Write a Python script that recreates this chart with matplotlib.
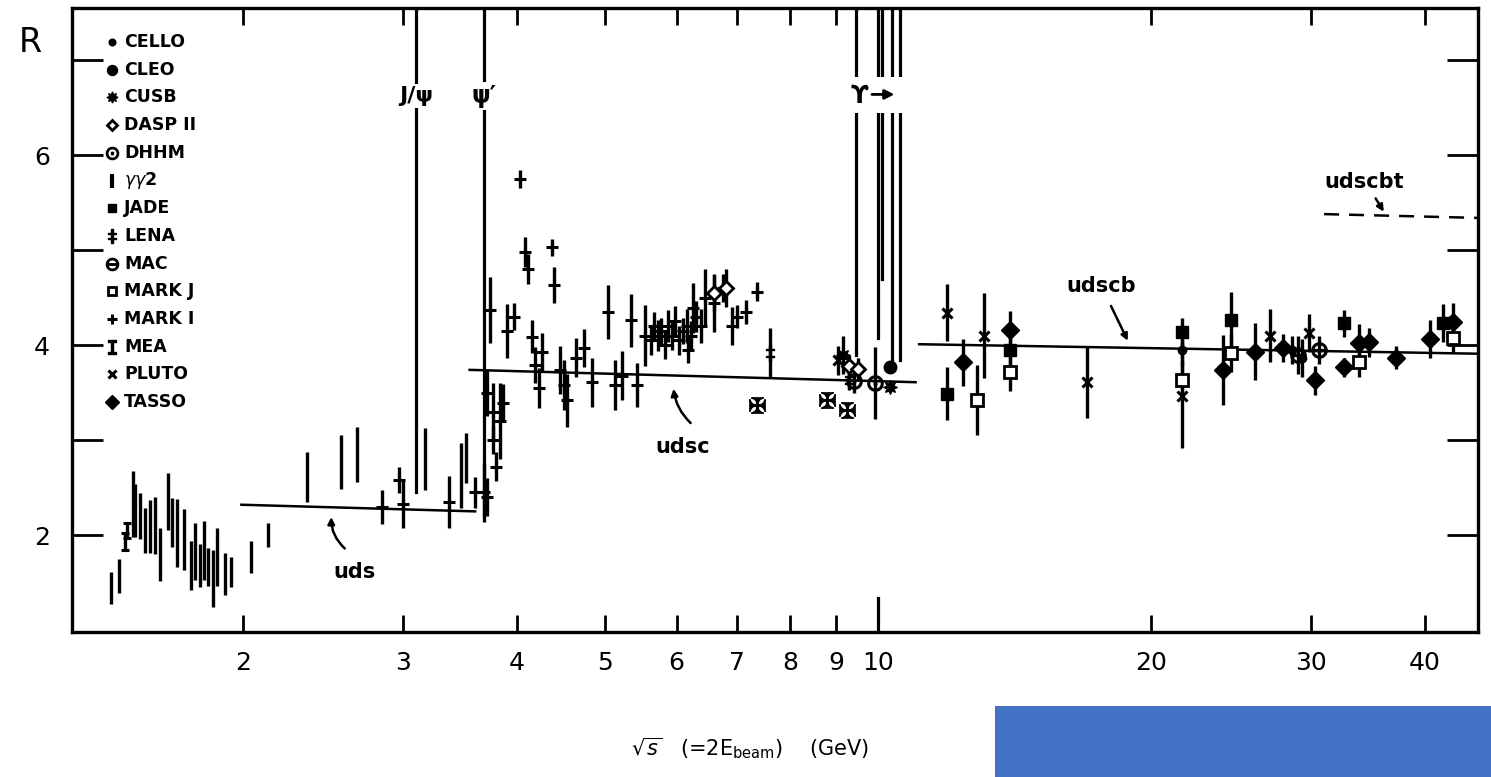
import numpy as np
import matplotlib.pyplot as plt
from matplotlib.patches import Rectangle

# ---- data (sqrt(s) in GeV, R, error) ----
gg2_x = [1.43, 1.46, 1.51, 1.52, 1.54, 1.56, 1.58, 1.60, 1.62, 1.65, 1.67, 1.69, 1.72,
         1.75, 1.77, 1.79, 1.81, 1.83, 1.85, 1.87, 1.91, 1.94, 2.04, 2.13, 2.35, 2.56,
         2.67, 3.17, 3.47, 3.52]
gg2_r = [1.44, 1.57, 2.33, 2.26, 2.20, 2.05, 2.09, 2.10, 1.80, 2.35, 2.13, 2.02, 1.95,
         1.68, 1.83, 1.68, 1.84, 1.66, 1.54, 1.77, 1.59, 1.61, 1.77, 2.00, 2.61, 2.77,
         2.85, 2.80, 2.63, 2.81]
gg2_e = [0.17, 0.18, 0.35, 0.28, 0.24, 0.24, 0.28, 0.30, 0.28, 0.30, 0.26, 0.36, 0.32,
         0.26, 0.30, 0.23, 0.31, 0.20, 0.30, 0.31, 0.22, 0.16, 0.17, 0.13, 0.26, 0.28,
         0.29, 0.33, 0.34, 0.26]

mea_x = [1.48, 1.49]
mea_r = [1.93, 2.05]
mea_e = [0.09, 0.08]

mark1_x = [2.84, 2.97, 3.00, 3.37, 3.60, 3.68, 3.71, 3.77, 3.83, 3.77, 3.80, 3.71, 3.86,
           3.74, 3.90, 3.97, 4.03, 4.09, 4.12, 4.16, 4.19, 4.23, 4.27, 4.37, 4.40, 4.47,
           4.51, 4.55, 4.65, 4.74, 4.84, 5.04, 5.13, 5.22, 5.34, 5.43, 5.54, 5.62, 5.67,
           5.72, 5.77, 5.82, 5.87, 5.93, 5.98, 6.04, 6.10, 6.16, 6.22, 6.30, 6.38, 6.18,
           6.25, 6.45, 6.60, 6.75, 6.90, 7.00, 7.15, 7.36]
mark1_r = [2.30, 2.58, 2.33, 2.35, 2.45, 2.45, 3.50, 3.30, 3.20, 3.00, 2.72, 2.40, 3.39,
           4.37, 4.15, 4.30, 5.75, 4.98, 4.80, 4.09, 3.79, 3.55, 3.93, 5.03, 4.63, 3.74,
           3.58, 3.42, 3.87, 3.97, 3.61, 4.35, 3.58, 3.68, 4.26, 3.58, 4.10, 4.05, 4.20,
           4.10, 4.15, 4.00, 4.20, 4.10, 4.25, 4.05, 4.15, 4.20, 4.10, 4.30, 4.20, 3.95,
           4.39, 4.50, 4.44, 4.60, 4.20, 4.30, 4.35, 4.56]
mark1_e = [0.18, 0.14, 0.25, 0.27, 0.16, 0.31, 0.25, 0.30, 0.40, 0.15, 0.15, 0.20, 0.20,
           0.35, 0.28, 0.14, 0.09, 0.16, 0.16, 0.17, 0.19, 0.21, 0.20, 0.09, 0.19, 0.25,
           0.26, 0.28, 0.21, 0.20, 0.26, 0.28, 0.26, 0.26, 0.28, 0.23, 0.32, 0.15, 0.15,
           0.16, 0.14, 0.15, 0.17, 0.15, 0.16, 0.15, 0.14, 0.18, 0.15, 0.16, 0.18, 0.14,
           0.26, 0.30, 0.30, 0.15, 0.20, 0.12, 0.13, 0.10]

lena_x = [7.60, 9.30]
lena_r = [3.92, 3.63]
lena_e = [0.26, 0.10]
lena_cross_x = [7.36, 8.79, 9.24]
lena_cross_r = [3.37, 3.42, 3.32]

dasp_x = [6.60, 6.80, 9.30, 9.50]
dasp_r = [4.55, 4.60, 3.78, 3.75]
dasp_e = [0.20, 0.20, 0.12, 0.12]

dhhm_x = [9.40, 9.93]
dhhm_r = [3.62, 3.60]
dhhm_e = [0.12, 0.38]

cusb_x = [9.15, 10.30]
cusb_r = [3.90, 3.56]
cusb_e = [0.20, 0.05]

cleo_x = [10.30]
cleo_r = [3.77]
cleo_e = [0.05]

jade_x = [11.9, 13.97, 21.6, 24.5, 32.6, 41.9]
jade_r = [3.49, 3.95, 4.14, 4.26, 4.23, 4.23]
jade_e = [0.28, 0.20, 0.15, 0.30, 0.14, 0.20]

pluto_x = [9.03, 11.9, 13.1, 17.0, 21.6, 27.0, 29.8]
pluto_r = [3.84, 4.34, 4.10, 3.61, 3.47, 4.10, 4.13]
pluto_e = [0.15, 0.30, 0.45, 0.38, 0.55, 0.28, 0.20]

tasso_x = [12.4, 13.97, 24.0, 26.0, 27.9, 30.3, 32.6, 33.9, 34.7, 37.2, 40.6, 43.0]
tasso_r = [3.82, 4.16, 3.74, 3.93, 3.97, 3.63, 3.77, 4.02, 4.03, 3.87, 4.07, 4.24]
tasso_e = [0.25, 0.20, 0.37, 0.30, 0.15, 0.15, 0.10, 0.20, 0.15, 0.12, 0.20, 0.20]

markj_x = [12.85, 13.97, 21.6, 24.5, 33.9, 43.0]
markj_r = [3.42, 3.72, 3.63, 3.92, 3.82, 4.08]
markj_e = [0.37, 0.20, 0.20, 0.20, 0.15, 0.15]

cello_x = [21.6, 28.6, 29.3]
cello_r = [3.95, 3.95, 3.86]
cello_e = [0.15, 0.15, 0.20]

mac_x = [29.0, 30.6]
mac_r = [3.90, 3.95]
mac_e = [0.20, 0.15]

# quark-parton model expectations
uds_x, uds_r = [1.99, 3.60], [2.32, 2.25]
udsc_x, udsc_r = [3.55, 11.0], [3.74, 3.61]
udscb_x, udscb_r = [11.1, 45.8], [4.01, 3.91]
udscbt_x, udscbt_r = [31.0, 45.8], [5.38, 5.34]

# resonances: (mass, lowest R reached by the line)
res_mass = [3.097, 3.686, 9.46, 10.0, 10.1, 10.36, 10.58]
res_low = [2.45, 2.20, 3.90, 4.08, 4.70, 3.80, 3.84]

xticks = [2, 3, 4, 5, 6, 7, 8, 9, 10, 20, 30, 40]

legend_names = ["CELLO", "CLEO", "CUSB", "DASP II", "DHHM", r"$\gamma\gamma$2", "JADE",
                "LENA", "MAC", "MARK J", "MARK I", "MEA", "PLUTO", "TASSO"]

XMIN, XMAX = 1.295, 45.8
YMIN, YMAX = 0.98, 7.55

# marker styles per experiment
STY = {
    "CELLO": dict(marker="o", ms=6, mfc="k"),
    "CLEO": dict(marker="o", ms=9, mfc="k"),
    "CUSB": dict(marker=(8, 1, 0), ms=10, mfc="k"),
    "DASP II": dict(marker="D", ms=7, mfc="white", mew=2),
    "DHHM": dict(marker=r"$\odot$", ms=11, mfc="k"),
    r"$\gamma\gamma$2": dict(marker="|", ms=13, mew=3),
    "JADE": dict(marker="s", ms=8, mfc="k"),
    "LENA": dict(marker="$\u2021$", ms=12),
    "MAC": dict(marker=r"$\ominus$", ms=11),
    "MARK J": dict(marker="s", ms=8, mfc="white", mew=2),
    "MARK I": dict(marker="+", ms=9, mew=2.2),
    "MEA": dict(marker=r"$\mathtt{I}$", ms=12),
    "PLUTO": dict(marker="x", ms=7, mew=2.2),
    "TASSO": dict(marker="D", ms=9, mfc="k"),
}


def draw(ax, x, r, e, name, capsize=0, marker_on=True):
    st = dict(STY[name])
    if not marker_on:
        st = dict(marker="none")
    ax.errorbar(x, r, yerr=e, fmt="none", ecolor="k", elinewidth=2.4,
                capsize=capsize, capthick=2.2, zorder=3)
    if st.get("marker") != "none":
        ax.plot(x, r, ls="none", color="k", mec="k", zorder=4, **st)


fig = plt.figure(figsize=(14.91, 7.77), dpi=100)
ax = fig.add_axes([72 / 1491, 1 - 632 / 777, 1406 / 1491, 624 / 777])
ax.set_xscale("log")
ax.set_xlim(XMIN, XMAX)
ax.set_ylim(YMIN, YMAX)

# resonance lines
for m, lo in zip(res_mass, res_low):
    ax.plot([m, m], [lo, YMAX], color="k", lw=2.3, zorder=2)
ax.plot([10.0, 10.0], [YMIN, 1.34], color="k", lw=2.3)

# theory lines
ax.plot(uds_x, uds_r, color="k", lw=1.8)
ax.plot(udsc_x, udsc_r, color="k", lw=1.8)
ax.plot(udscb_x, udscb_r, color="k", lw=1.8)
ax.plot(udscbt_x, udscbt_r, color="k", lw=1.8, ls=(0, (6, 4)))

# data
draw(ax, gg2_x, gg2_r, gg2_e, r"$\gamma\gamma$2", marker_on=False)
draw(ax, mea_x, mea_r, mea_e, "MEA", capsize=3, marker_on=False)
draw(ax, mark1_x, mark1_r, mark1_e, "MARK I")
draw(ax, lena_x, lena_r, lena_e, "LENA")
ax.plot(lena_cross_x, lena_cross_r, ls="none", marker="$\u2720$", ms=11, color="k")
draw(ax, dasp_x, dasp_r, dasp_e, "DASP II")
draw(ax, dhhm_x, dhhm_r, dhhm_e, "DHHM")
draw(ax, cusb_x, cusb_r, cusb_e, "CUSB")
draw(ax, cleo_x, cleo_r, cleo_e, "CLEO")
draw(ax, jade_x, jade_r, jade_e, "JADE")
draw(ax, pluto_x, pluto_r, pluto_e, "PLUTO")
draw(ax, tasso_x, tasso_r, tasso_e, "TASSO")
draw(ax, markj_x, markj_r, markj_e, "MARK J")
draw(ax, cello_x, cello_r, cello_e, "CELLO")
draw(ax, mac_x, mac_r, mac_e, "MAC")

# resonance labels (white box breaks the lines)
box = dict(facecolor="white", edgecolor="none", pad=1.5)
ax.text(3.097, 6.62, "J/\u03c8", ha="center", va="center", fontsize=16,
        fontweight="bold", bbox=box, zorder=5)
ax.text(3.686, 6.62, "\u03c8\u2032", ha="center", va="center", fontsize=17,
        fontweight="bold", bbox=box, zorder=5)
ax.add_patch(Rectangle((9.3, 6.44), 1.45, 0.38, facecolor="white",
                       edgecolor="none", zorder=5))
ax.text(9.55, 6.62, "\u03d2", ha="center", va="center", fontsize=17,
        fontweight="bold", zorder=6)
ax.annotate("", xy=(10.5, 6.64), xytext=(9.78, 6.64),
            arrowprops=dict(arrowstyle="-|>", color="k", lw=2,
                            mutation_scale=14), zorder=6)

# labels of the parton-model lines
lab = dict(fontsize=15, fontweight="bold", ha="center", va="center")
ax.text(2.65, 1.61, "uds", **lab)
ax.annotate("", xy=(2.50, 2.22), xytext=(2.60, 1.84),
            arrowprops=dict(arrowstyle="-|>", color="k", lw=1.8,
                            connectionstyle="arc3,rad=-0.25"))
ax.text(6.1, 2.93, "udsc", **lab)
ax.annotate("", xy=(5.95, 3.57), xytext=(6.25, 3.16),
            arrowprops=dict(arrowstyle="-|>", color="k", lw=1.8,
                            connectionstyle="arc3,rad=-0.2"))
ax.text(17.6, 4.62, "udscb", **lab)
ax.annotate("", xy=(18.9, 4.02), xytext=(18.0, 4.44),
            arrowprops=dict(arrowstyle="-|>", color="k", lw=1.8))
ax.text(34.3, 5.72, "udscbt", **lab)
ax.annotate("", xy=(36.2, 5.38), xytext=(35.2, 5.57),
            arrowprops=dict(arrowstyle="-|>", color="k", lw=1.8))

# legend drawn by hand in axes coordinates
for i, name in enumerate(legend_names):
    ly = (632 - (42 + 27.7 * i)) / 624
    st = dict(STY[name])
    st["ms"] = st.get("ms", 8) * 0.8
    ax.plot([(112 - 72) / 1406], [ly], ls="none", color="k", mec="k",
            transform=ax.transAxes, clip_on=False, **st)
    ax.text((124 - 72) / 1406, ly, name, transform=ax.transAxes, fontsize=12.5,
            fontweight="bold", va="center", ha="left")

# axes styling
for sp in ax.spines.values():
    sp.set_linewidth(2.4)
ax.set_xticks(xticks)
ax.set_xticklabels([str(t) for t in xticks])
ax.xaxis.set_minor_locator(plt.NullLocator())
ax.set_yticks([2, 3, 4, 5, 6, 7])
ax.set_yticklabels(["2", "", "4", "", "6", ""])
ax.tick_params(axis="x", which="major", direction="in", length=12, width=2,
               top=True, labelsize=18, pad=14)
ax.tick_params(axis="y", which="major", direction="in", length=22, width=2,
               right=True, labelsize=18, pad=16)
fig.text(30 / 1491, 1 - 42 / 777, "R", fontsize=24, ha="center", va="center")
fig.text(750 / 1491, 1 - 748 / 777,
         r"$\sqrt{s}$   (=2E$_{\mathrm{beam}}$)    (GeV)", fontsize=15,
         ha="center", va="center")

fig.patches.append(Rectangle((995 / 1491, 0), 496 / 1491, 71 / 777,
                             transform=fig.transFigure, facecolor="#4472C4",
                             edgecolor="none"))

fig.savefig("out.png", dpi=100)
